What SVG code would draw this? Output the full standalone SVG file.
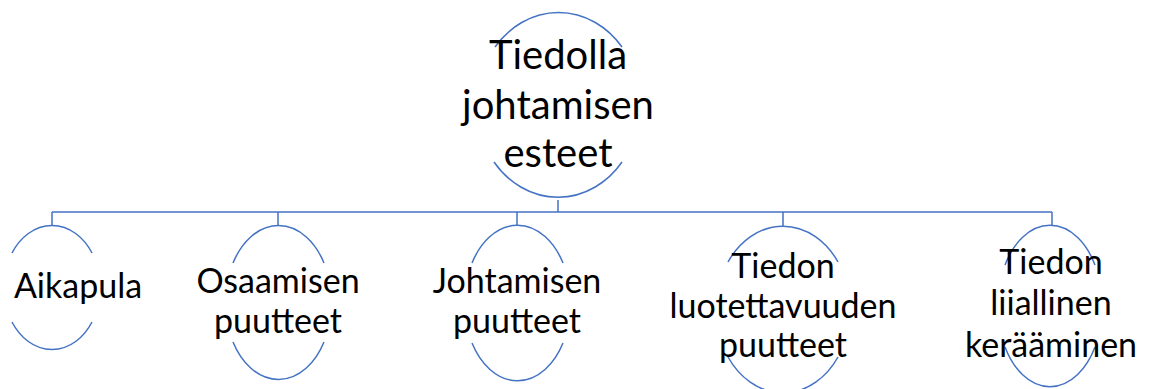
<svg xmlns="http://www.w3.org/2000/svg" width="1157" height="389" viewBox="0 0 1157 389">
  <style>
    .arc { fill: none; stroke: #4472C4; stroke-width: 1.5; }
    .link { fill: none; stroke: #4472C4; stroke-width: 1.5; }
    .lbl { font-family: Lato, "Liberation Sans", sans-serif; fill: #000; text-anchor: middle; }
    .root { font-size: 40px; }
    .leaf { font-size: 34px; }
  </style>
  <rect width="1157" height="389" fill="#fff"/>

  <!-- connectors: root stem, bus, leaf stems -->
  <g id="connectors">
    <path class="link" d="M558,200 V212 M52,212 H1052 M52,212 V226 M278,212 V225 M517,212 V226 M783,212 V226 M1052,212 V226"/>
  </g>

  <!-- root node -->
  <g id="node-root">
    <path class="arc" d="M495,47 A82,94 0 0 1 622,47"/>
    <path class="arc" d="M494,162 A82,94 0 0 0 622,162"/>
    <text class="lbl root" x="558" y="69">Tiedolla</text>
    <text class="lbl root" x="558" y="119">johtamisen</text>
    <text class="lbl root" x="558" y="167">esteet</text>
  </g>

  <g id="node-aikapula">
    <path class="arc" d="M12,253 A48,61.5 0 0 1 92,253"/>
    <path class="arc" d="M12,322 A48,61.5 0 0 0 92,322"/>
    <text class="lbl leaf" x="78" y="298">Aikapula</text>
  </g>

  <g id="node-osaamisen">
    <path class="arc" d="M233,263 A53,77 0 0 1 324,263"/>
    <path class="arc" d="M233,342 A53,77 0 0 0 324,342"/>
    <text class="lbl leaf" x="278" y="293">Osaamisen</text>
    <text class="lbl leaf" x="278" y="333">puutteet</text>
  </g>

  <g id="node-johtamisen">
    <path class="arc" d="M472,263 A53,77.5 0 0 1 563,263"/>
    <path class="arc" d="M472,343 A53,77.5 0 0 0 563,343"/>
    <text class="lbl leaf" x="517" y="293">Johtamisen</text>
    <text class="lbl leaf" x="517" y="333">puutteet</text>
  </g>

  <g id="node-luotettavuus">
    <path class="arc" d="M728,262 A67,83.5 0 0 1 838,262"/>
    <path class="arc" d="M728,357 A67,83.5 0 0 0 838,357"/>
    <text class="lbl leaf" x="783" y="278">Tiedon</text>
    <text class="lbl leaf" x="783" y="318">luotettavuuden</text>
    <text class="lbl leaf" x="783" y="357">puutteet</text>
  </g>

  <g id="node-keraaminen">
    <path class="arc" d="M1005,265 A52,79.5 0 0 1 1095,265"/>
    <path class="arc" d="M1005,347 A52,79.5 0 0 0 1095,347"/>
    <text class="lbl leaf" x="1051" y="274">Tiedon</text>
    <text class="lbl leaf" x="1051" y="315">liiallinen</text>
    <text class="lbl leaf" x="1051" y="357">kerääminen</text>
  </g>
</svg>
